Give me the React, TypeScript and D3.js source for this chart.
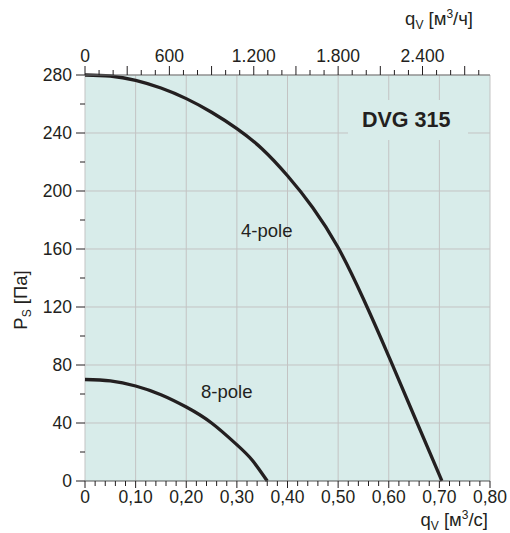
import React from "react";
import * as d3 from "d3";

// ---- data ----
const flowTicks = [0, 0.1, 0.2, 0.3, 0.4, 0.5, 0.6, 0.7, 0.8];
const flowTickLabels = ["0", "0,10", "0,20", "0,30", "0,40", "0,50", "0,60", "0,70", "0,80"];
const pressureTicks = [0, 40, 80, 120, 160, 200, 240, 280];
const topTicks = [0, 600, 1200, 1800, 2400];
const topTickLabels = ["0", "600", "1.200", "1.800", "2.400"];

const fourPoleQ = [0, 0.05, 0.1, 0.15, 0.2, 0.25, 0.3, 0.35, 0.4, 0.45, 0.5, 0.55, 0.6, 0.65, 0.705];
const fourPoleP = [280, 279.3, 276.3, 271, 263.7, 254.3, 243, 229, 210.5, 188.5, 161, 125.5, 86, 45, 0];

const eightPoleQ = [0, 0.05, 0.1, 0.15, 0.2, 0.25, 0.3, 0.33, 0.36];
const eightPoleP = [70, 69, 65.5, 59.5, 51, 40, 25, 14.5, 0];

const BG = "#d8ecea";
const GRID = "#c3c3c3";
const INK = "#231f20";
const FONT = "'Liberation Sans', Arial, Helvetica, sans-serif";

export default function App() {
  const x = d3.scaleLinear().domain([0, 0.8]).range([85, 490]);
  const y = d3.scaleLinear().domain([0, 280]).range([481, 75]);
  const xTop = d3.scaleLinear().domain([0, 2880]).range([85, 490]);

  const line = d3
    .line<[number, number]>()
    .x((d) => x(d[0]))
    .y((d) => y(d[1]))
    .curve(d3.curveNatural);

  const four: [number, number][] = fourPoleQ.map((q, i) => [q, fourPoleP[i]]);
  const eight: [number, number][] = eightPoleQ.map((q, i) => [q, eightPoleP[i]]);

  const minorBottom = d3.range(0, 0.8001, 0.02);
  const minorLeft = d3.range(0, 280.01, 20);
  const topMinor = d3.range(0, 2880.01, 100);

  const [x0, x1] = x.range();
  const [y0, y1] = y.range();

  return (
    <svg
      width={510}
      height={533}
      style={{ position: "absolute", left: 0, top: 0, background: "#fff" }}
      fontFamily={FONT}
    >
      {/* plot background */}
      <rect x={x0} y={y1} width={x1 - x0} height={y0 - y1} fill={BG} />

      {/* grid */}
      {flowTicks.slice(1).map((t) => (
        <line key={"gx" + t} x1={x(t)} x2={x(t)} y1={y1} y2={y0} stroke={GRID} strokeWidth={1} />
      ))}
      {pressureTicks.slice(1).map((t) => (
        <line key={"gy" + t} x1={x0} x2={x1} y1={y(t)} y2={y(t)} stroke={GRID} strokeWidth={1} />
      ))}
      <line x1={x0} x2={x0} y1={y1} y2={y0} stroke={GRID} strokeWidth={1} />

      {/* DVG label box masking grid */}
      <rect x={348} y={100} width={120} height={40} fill={BG} />
      <text x={362} y={127} fontSize={21.5} fontWeight="bold" fill={INK}>
        DVG 315
      </text>

      {/* curves */}
      <path d={line(four) || ""} fill="none" stroke={INK} strokeWidth={3.3} strokeLinecap="butt" />
      <path d={line(eight) || ""} fill="none" stroke={INK} strokeWidth={3.3} strokeLinecap="butt" />

      <text x={241} y={237} fontSize={18.5} fill={INK}>4-pole</text>
      <text x={201} y={398} fontSize={18.5} fill={INK}>8-pole</text>

      {/* bottom axis */}
      <line x1={x0} x2={x1} y1={y0} y2={y0} stroke="#555" strokeWidth={1} />
      {minorBottom.map((t, i) => (
        <line
          key={"bt" + i}
          x1={x(t)}
          x2={x(t)}
          y1={y0}
          y2={y0 + (i % 5 === 0 ? 7 : 5)}
          stroke={INK}
          strokeWidth={1}
        />
      ))}
      {flowTicks.map((t, i) => (
        <text key={"bl" + t} x={x(t)} y={503} fontSize={17.5} textAnchor="middle" fill={INK}>
          {flowTickLabels[i]}
        </text>
      ))}
      <text x={488} y={526} fontSize={18.5} textAnchor="end" fill={INK}>
        q
        <tspan fontSize={12} dy={4}>V</tspan>
        <tspan dy={-4}> [м</tspan>
        <tspan fontSize={12} dy={-7}>3</tspan>
        <tspan dy={7}>/с]</tspan>
      </text>

      {/* left axis */}
      {minorLeft.map((t, i) => (
        <line
          key={"lt" + i}
          x1={x0 - (i % 2 === 0 ? 9 : 5)}
          x2={x0}
          y1={y(t)}
          y2={y(t)}
          stroke={INK}
          strokeWidth={1}
        />
      ))}
      {pressureTicks.map((t) => (
        <text key={"ll" + t} x={72} y={y(t) + 6} fontSize={17.5} textAnchor="end" fill={INK}>
          {t}
        </text>
      ))}
      <text transform="translate(27,300) rotate(-90)" fontSize={18.5} textAnchor="middle" fill={INK}>
        P
        <tspan fontSize={12} dy={4}>S</tspan>
        <tspan dy={-4}> [Па]</tspan>
      </text>

      {/* top axis */}
      <line x1={x0} x2={x1} y1={y1} y2={y1} stroke="#777" strokeWidth={1} />
      {topMinor.map((t, i) => (
        <line
          key={"tt" + i}
          x1={xTop(t)}
          x2={xTop(t)}
          y1={y1}
          y2={y1 - (i % 3 === 0 ? 9 : 5)}
          stroke={INK}
          strokeWidth={1}
        />
      ))}
      {topTicks.map((t, i) => (
        <text key={"tl" + t} x={xTop(t)} y={62} fontSize={17.5} textAnchor="middle" fill={INK}>
          {topTickLabels[i]}
        </text>
      ))}
      <text x={473} y={25} fontSize={18.5} textAnchor="end" fill={INK}>
        q
        <tspan fontSize={12} dy={4}>V</tspan>
        <tspan dy={-4}> [м</tspan>
        <tspan fontSize={12} dy={-7}>3</tspan>
        <tspan dy={7}>/ч]</tspan>
      </text>
    </svg>
  );
}
